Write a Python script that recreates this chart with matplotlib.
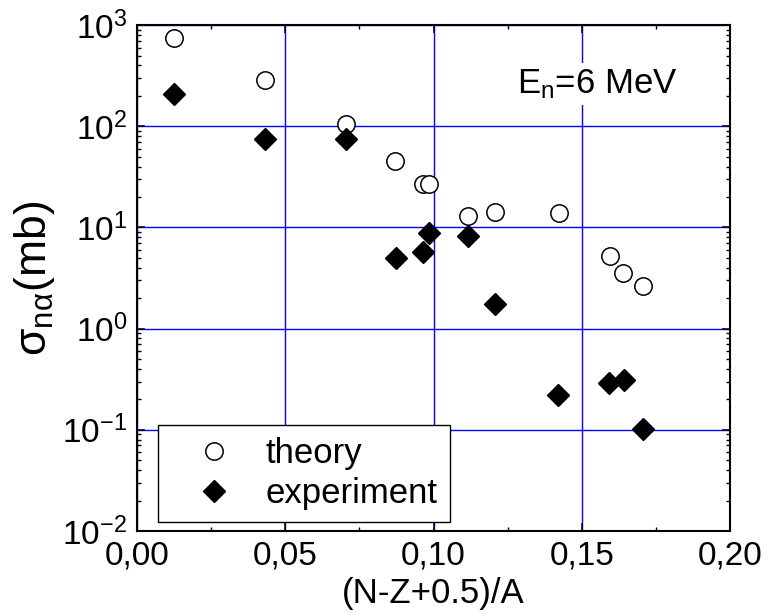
import numpy as np
import matplotlib
matplotlib.use('Agg')
import matplotlib.pyplot as plt
from matplotlib.ticker import MultipleLocator, LogLocator, FuncFormatter, NullFormatter

# Data
x_theory = [0.0125, 0.0432, 0.0705, 0.0870, 0.0964, 0.0985, 0.1117, 0.1207, 0.1423, 0.1594, 0.1640, 0.1707]
y_theory = [740, 286, 105, 45, 26.9, 27.2, 13.1, 14.3, 14.0, 5.26, 3.52, 2.64]

x_exp = [0.0125, 0.0432, 0.0705, 0.0872, 0.0963, 0.0983, 0.1117, 0.1207, 0.1420, 0.1593, 0.1642, 0.1707]
y_exp = [208, 74.8, 75, 5.0, 5.67, 8.8, 8.17, 1.75, 0.221, 0.292, 0.31, 0.101]

plt.rcParams['font.family'] = ['Liberation Sans', 'DejaVu Sans']
plt.rcParams['mathtext.fontset'] = 'custom'
plt.rcParams['mathtext.rm'] = 'Liberation Sans'
plt.rcParams['mathtext.it'] = 'Liberation Sans:italic'
plt.rcParams['mathtext.bf'] = 'Liberation Sans:bold'

fig = plt.figure(figsize=(7.67, 6.13), dpi=100)
ax = fig.add_axes([0.1786, 0.1338, 0.952 - 0.1786, 0.959 - 0.1338])

ax.set_yscale('log')
ax.set_xlim(0, 0.2)
ax.set_ylim(1e-2, 1e3)

# grid at major ticks
ax.grid(True, which='major', color='#0000ff', linewidth=1.0)
ax.set_axisbelow(True)

ax.plot(x_theory, y_theory, linestyle='none', marker='o', markersize=12.5,
        markerfacecolor='white', markeredgecolor='black', markeredgewidth=1.1,
        label='theory', zorder=3)
ax.plot(x_exp, y_exp, linestyle='none', marker='D', markersize=10.8,
        markerfacecolor='black', markeredgecolor='black',
        label='experiment', zorder=4)

ax.xaxis.set_major_locator(MultipleLocator(0.05))
ax.xaxis.set_minor_locator(MultipleLocator(0.025))
ax.xaxis.set_major_formatter(FuncFormatter(lambda v, p: ('%.2f' % v).replace('.', ',')))
ax.yaxis.set_major_locator(LogLocator(base=10, numticks=10))
ax.yaxis.set_minor_locator(LogLocator(base=10, subs=np.arange(2, 10), numticks=20))
ax.yaxis.set_minor_formatter(NullFormatter())

ax.tick_params(which='both', direction='in', top=True, right=True, labelsize=24, colors='black')
ax.tick_params(which='major', length=6, width=1.1, pad=7)
ax.tick_params(which='minor', length=3, width=1.0)
for s in ax.spines.values():
    s.set_linewidth(1.5)

ax.set_xlabel('(N-Z+0.5)/A', fontsize=25, labelpad=4)
ax.set_ylabel(r'σ$_\mathregular{nα}$(mb)', fontsize=32, labelpad=4)

ax.text(0.128, 213, r'E$_\mathregular{n}$=6 MeV', fontsize=25, va='baseline',
        bbox=dict(facecolor='white', edgecolor='none', pad=3), zorder=5)

leg = ax.legend(loc='lower left', bbox_to_anchor=(0.0354, 0.0178), borderaxespad=0,
                fontsize=25, frameon=True, fancybox=False, edgecolor='black', framealpha=1,
                borderpad=0.35, handletextpad=0.25, labelspacing=0.2, handlelength=2.5)
leg.get_frame().set_linewidth(1.0)

fig.savefig('out.png', dpi=100)
